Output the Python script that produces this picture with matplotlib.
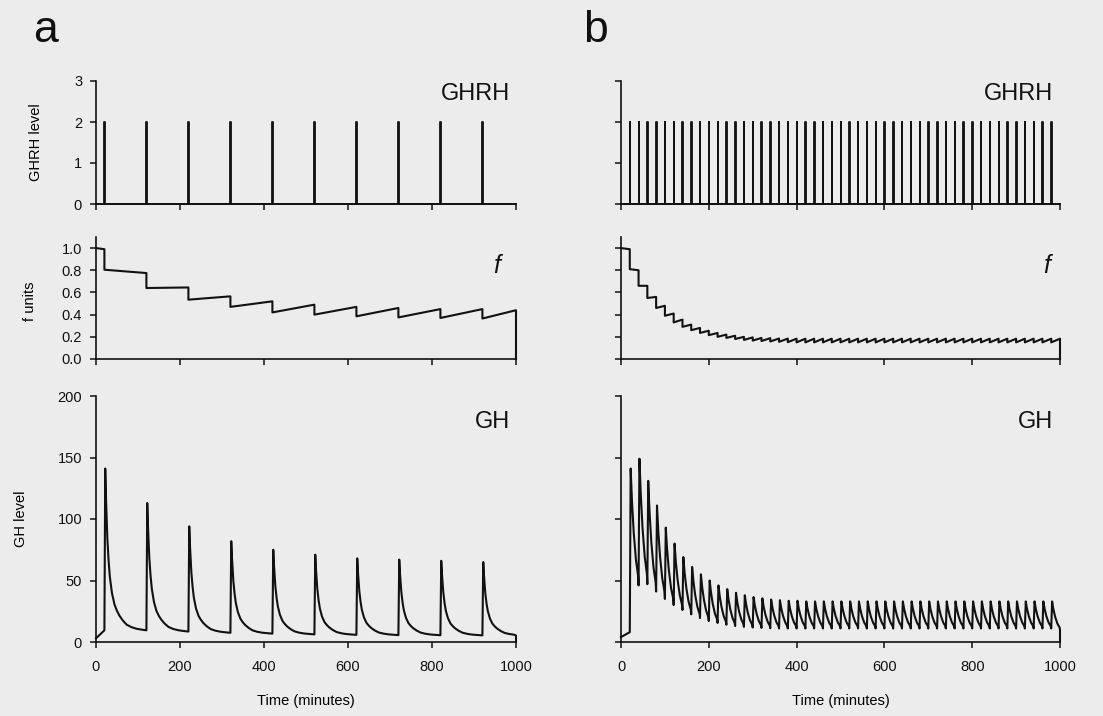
import matplotlib.pyplot as plt

plt.rcParams['font.family'] = ['Liberation Sans', 'DejaVu Sans']

# ---- data (times in minutes) ----
pulses_a = [20, 120, 220, 320, 420, 520, 620, 720, 820, 920]
pulses_b = [20, 40, 60, 80, 100, 120, 140, 160, 180, 200,
            220, 240, 260, 280, 300, 320, 340, 360, 380, 400,
            420, 440, 460, 480, 500, 520, 540, 560, 580, 600,
            620, 640, 660, 680, 700, 720, 740, 760, 780, 800,
            820, 840, 860, 880, 900, 920, 940, 960, 980]
ghrh_height = 2

# f: value just before / just after each pulse
f_a_start = 1.0
f_a_before = [0.99, 0.775, 0.645, 0.565, 0.52, 0.49, 0.47, 0.46, 0.45, 0.45]
f_a_after = [0.805, 0.64, 0.535, 0.47, 0.42, 0.40, 0.385, 0.375, 0.37, 0.365]
f_a_end = 0.44

f_b_start = 1.0
f_b_before = [0.99, 0.80, 0.66, 0.56, 0.48, 0.41, 0.355, 0.31, 0.28, 0.255,
              0.235, 0.22, 0.21, 0.20, 0.195, 0.19, 0.188, 0.185, 0.184, 0.183,
              0.183, 0.183, 0.183, 0.183, 0.183, 0.183, 0.183, 0.183, 0.183, 0.183,
              0.183, 0.183, 0.183, 0.183, 0.183, 0.183, 0.183, 0.183, 0.183, 0.183,
              0.183, 0.183, 0.183, 0.183, 0.183, 0.183, 0.183, 0.183, 0.183]
f_b_after = [0.81, 0.66, 0.55, 0.46, 0.39, 0.33, 0.29, 0.26, 0.235, 0.215,
             0.20, 0.19, 0.18, 0.172, 0.166, 0.162, 0.158, 0.155, 0.152, 0.15,
             0.15, 0.15, 0.15, 0.15, 0.15, 0.15, 0.15, 0.15, 0.15, 0.15,
             0.15, 0.15, 0.15, 0.15, 0.15, 0.15, 0.15, 0.15, 0.15, 0.15,
             0.15, 0.15, 0.15, 0.15, 0.15, 0.15, 0.15, 0.15, 0.15]
f_b_end = 0.183

# GH: value just before each pulse, peak after each pulse
gh_a_start = 3
gh_a_before = [9.5, 9.5, 8.5, 7.5, 6.8, 6.2, 5.8, 5.6, 5.5, 5.4]
gh_a_peak = [141, 113, 94, 82, 75, 71, 68, 67, 66, 65]
gh_a_end = 5.3
decay_a_offsets = [0, 2, 5, 8, 11, 16, 22, 28, 34, 42, 51, 62, 74, 87]
decay_a_frac = [1.0, 0.80, 0.57, 0.43, 0.33, 0.23, 0.16, 0.12, 0.09,
                0.06, 0.035, 0.02, 0.01, 0.004]

gh_b_start = 4
gh_b_before = [8, 46, 47, 41, 35, 30, 26, 22.5, 19.5, 17,
               15.5, 14, 13, 12.3, 11.8, 11.5, 11.2, 11, 11, 11,
               11, 11, 11, 11, 11, 11, 11, 11, 11, 11,
               11, 11, 11, 11, 11, 11, 11, 11, 11, 11,
               11, 11, 11, 11, 11, 11, 11, 11, 11]
gh_b_peak = [141, 149, 131, 111, 93, 80, 69, 61, 55, 50,
             46, 43, 40, 38, 36.5, 35.5, 34.5, 34, 33.5, 33.5,
             33, 33, 33, 33, 33, 33, 33, 33, 33, 33,
             33, 33, 33, 33, 33, 33, 33, 33, 33, 33,
             33, 33, 33, 33, 33, 33, 33, 33, 33]
gh_b_end = 10
decay_b_offsets = [0, 3, 7, 12, 17]
decay_b_frac = [1.0, 0.72, 0.45, 0.22, 0.08]
rise_min = 2

T_END = 1000
ink = '#111111'
bg = '#ececec'


def pulse_train(pulses, height):
    t, y = [0], [0]
    for p in pulses:
        t += [p, p, p + 1, p + 1]
        y += [0, height, height, 0]
    t.append(T_END)
    y.append(0)
    return t, y


def staircase(pulses, start, before, after, end):
    t, y = [0], [start]
    for p, b, a in zip(pulses, before, after):
        t += [p, p]
        y += [b, a]
    t += [T_END, T_END]
    y += [end, 0]
    return t, y


def gh_curve(pulses, start, before, peak, end, offsets, frac):
    t, y = [0], [start]
    nxt = pulses[1:] + [T_END]
    low_next = before[1:] + [end]
    for p, b, pk, q, low in zip(pulses, before, peak, nxt, low_next):
        t.append(p)
        y.append(b)
        for o, fr in zip(offsets, frac):
            if p + rise_min + o < q:
                t.append(p + rise_min + o)
                y.append(low + (pk - low) * fr)
    t += [T_END, T_END]
    y += [end, 0]
    return t, y


fig = plt.figure(figsize=(11.03, 7.16), dpi=100, facecolor=bg)

W, H = 1103, 716
cols = {'a': (96, 516), 'b': (621, 1060)}
rows = [(81, 204), (237, 359), (396, 642)]   # top, bottom in pixels

axes = {}
for key, (x0, x1) in cols.items():
    axes[key] = []
    for (y0, y1) in rows:
        ax = fig.add_axes([x0 / W, 1 - y1 / H, (x1 - x0) / W, (y1 - y0) / H])
        ax.set_facecolor('none')
        for s in ['top', 'right']:
            ax.spines[s].set_visible(False)
        for s in ['left', 'bottom']:
            ax.spines[s].set_linewidth(1.2)
            ax.spines[s].set_color(ink)
        ax.tick_params(direction='out', length=4, width=1.1, colors=ink,
                       labelsize=10.5)
        ax.tick_params(axis='y', pad=6)
        ax.tick_params(axis='x', pad=9)
        ax.set_xlim(0, T_END)
        ax.set_xticks([0, 200, 400, 600, 800, 1000])
        axes[key].append(ax)

data = {
    'a': (pulses_a, (f_a_start, f_a_before, f_a_after, f_a_end),
          (gh_a_start, gh_a_before, gh_a_peak, gh_a_end, decay_a_offsets, decay_a_frac)),
    'b': (pulses_b, (f_b_start, f_b_before, f_b_after, f_b_end),
          (gh_b_start, gh_b_before, gh_b_peak, gh_b_end, decay_b_offsets, decay_b_frac)),
}
f_xpos = {'a': 0.962, 'b': 0.977}

for key in ['a', 'b']:
    pulses, fpar, ghpar = data[key]
    ax1, ax2, ax3 = axes[key]

    t, y = pulse_train(pulses, ghrh_height)
    ax1.plot(t, y, color=ink, lw=1.3, clip_on=False)
    ax1.set_ylim(0, 3)
    ax1.set_yticks([0, 1, 2, 3])

    t, y = staircase(pulses, *fpar)
    ax2.plot(t, y, color=ink, lw=1.5, clip_on=False)
    ax2.set_ylim(0, 1.1)
    ax2.set_yticks([0, 0.2, 0.4, 0.6, 0.8, 1.0])
    ax2.set_yticklabels(['0.0', '0.2', '0.4', '0.6', '0.8', '1.0'])

    t, y = gh_curve(pulses, *ghpar)
    ax3.plot(t, y, color=ink, lw=1.5, clip_on=False)
    ax3.set_ylim(0, 200)
    ax3.set_yticks([0, 50, 100, 150, 200])

    ax1.tick_params(labelbottom=False)
    ax2.tick_params(labelbottom=False)
    ax3.set_xlabel('Time (minutes)', fontsize=10.5, labelpad=14)

    if key == 'b':
        for ax in (ax1, ax2, ax3):
            ax.tick_params(labelleft=False)

    ax1.text(0.985, 0.98, 'GHRH', transform=ax1.transAxes, ha='right', va='top',
             fontsize=17, color=ink)
    ax2.text(f_xpos[key], 0.86, 'f', transform=ax2.transAxes, ha='right', va='top',
             fontsize=18, style='italic', color=ink)
    ax3.text(0.985, 0.94, 'GH', transform=ax3.transAxes, ha='right', va='top',
             fontsize=17, color=ink)

axa = axes['a']
axa[0].set_ylabel('GHRH level', fontsize=10.5)
axa[0].yaxis.set_label_coords(-0.126, 0.5)
axa[1].set_ylabel('f units', fontsize=10.5)
axa[1].yaxis.set_label_coords(-0.14, 0.47)
axa[2].set_ylabel('GH level', fontsize=10.5)
axa[2].yaxis.set_label_coords(-0.162, 0.5)

fig.text(33 / W, 1 - 10 / H, 'a', fontsize=32, ha='left', va='top', color=ink)
fig.text(583 / W, 1 - 10 / H, 'b', fontsize=32, ha='left', va='top', color=ink)

fig.savefig('out.png', dpi=100, facecolor=bg)
